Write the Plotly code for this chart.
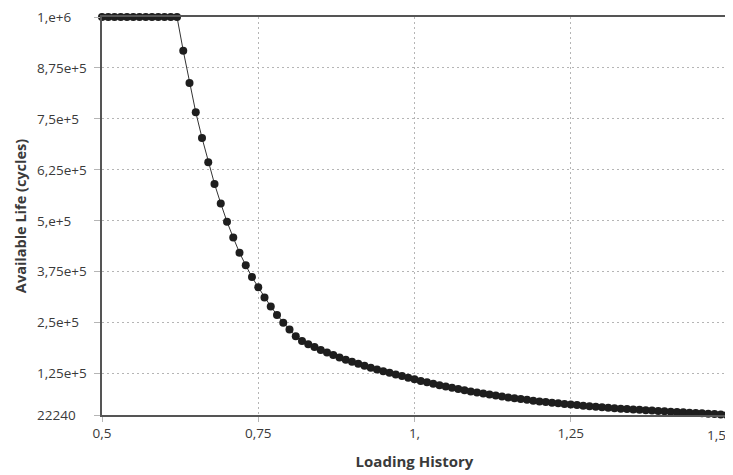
import plotly.graph_objects as go

loading_history = [round(0.50 + 0.01 * i, 2) for i in range(101)]

available_life = [
    1000000, 1000000, 1000000, 1000000, 1000000, 1000000, 1000000, 1000000, 1000000, 1000000,
    1000000, 1000000, 1000000,
    917000, 838000, 766000, 703000, 643000, 590000, 542000, 497000, 458000, 421000,
    390000, 361000, 336000, 311000, 289000, 268000, 249000, 232000, 216000, 204000,
    196000, 189000, 182000, 175500, 169500, 163500, 158000, 153000, 148000, 143000,
    138500, 134000, 130000, 126000, 122000, 118000, 114000, 110000,
    106000, 102500, 99000, 95500, 92000, 89000, 86000, 83000, 80000, 77500,
    75000, 72500, 70000, 67500, 65500, 63500, 61500, 59500, 57500, 55500,
    54000, 52500, 51000, 49500, 48000, 46500, 45000, 43800, 42600, 41400,
    40200, 39000, 37900, 36900, 35900, 34900, 33900, 33000, 32100, 31200,
    30300, 29500, 28700, 27900, 27100, 26300, 25500, 24700, 23500, 22240,
]

x_tick_vals = [0.5, 0.75, 1.0, 1.25, 1.5]
x_tick_text = ["0,5", "0,75", "1,", "1,25", "1,5"]
y_tick_vals = [22240, 125000, 250000, 375000, 500000, 625000, 750000, 875000, 1000000]
y_tick_text = ["22240", "1,25e+5", "2,5e+5", "3,75e+5", "5,e+5", "6,25e+5", "7,5e+5", "8,75e+5", "1,e+6"]

FONT = "Open Sans"
TXT = "#3a3a3a"
GRID = "#b5b5b5"

fig = go.Figure()
fig.add_trace(go.Scatter(
    x=loading_history, y=available_life, mode="lines+markers",
    line=dict(color="#333333", width=1),
    marker=dict(color="#1e1e1e", size=8, line=dict(width=0)),
    cliponaxis=False, showlegend=False,
))

for v, t in zip(y_tick_vals, y_tick_text):
    fig.add_annotation(x=-0.1072, y=v, xref="paper", yref="y", text=t,
                       showarrow=False, xanchor="left", yanchor="middle",
                       font=dict(family=FONT, size=13.5, color=TXT))

# last x tick label kept inside the window
shown_x_text = x_tick_text[:-1] + [""]
fig.add_annotation(x=x_tick_vals[-1], y=0, xref="x", yref="paper", text=x_tick_text[-1],
                   showarrow=False, xanchor="right", yanchor="top", xshift=1, yshift=-9,
                   font=dict(family=FONT, size=13.5, color=TXT))

fig.update_layout(
    width=733, height=475,
    margin=dict(l=94, r=14, t=9, b=68),
    paper_bgcolor="white", plot_bgcolor="white",
    font=dict(family=FONT, size=13.5, color=TXT),
    xaxis=dict(
        range=[0.5, 1.5], tickvals=x_tick_vals, ticktext=shown_x_text,
        showline=True, linecolor="#555555", linewidth=1.5, mirror=True,
        showgrid=True, gridcolor=GRID, griddash="2px,3px", gridwidth=1,
        ticks="outside", ticklen=5, tickcolor=GRID,
        tickfont=dict(family=FONT, size=13.5, color=TXT), zeroline=False,
        automargin=False,
        title=dict(text="<b>Loading History</b>", standoff=16,
                   font=dict(family=FONT, size=15, color=TXT)),
    ),
    yaxis=dict(
        range=[22240, 1000000], tickvals=y_tick_vals, showticklabels=False,
        showline=True, linecolor="#555555", linewidth=1.5, mirror=True,
        showgrid=True, gridcolor=GRID, griddash="2px,3px", gridwidth=1,
        ticks="outside", ticklen=6, tickcolor=GRID, zeroline=False,
        automargin=False,
    ),
)
fig.add_annotation(x=-0.131, y=0.5, xref="paper", yref="paper",
                   text="<b>Available Life (cycles)</b>", textangle=-90,
                   showarrow=False, xanchor="center", yanchor="middle",
                   font=dict(family=FONT, size=14.5, color=TXT))

fig.write_html("out.html")
